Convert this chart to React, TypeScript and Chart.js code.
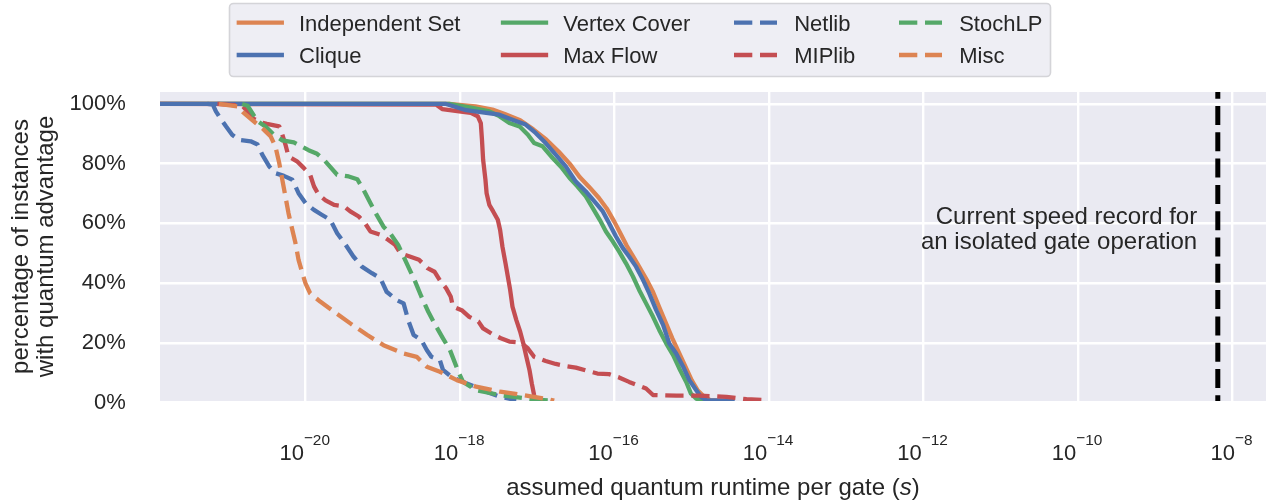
import React, { useEffect, useRef } from 'react';
import { Chart, registerables } from 'chart.js';

Chart.register(...registerables);

const FONT = '"Liberation Sans", Arial, Helvetica, sans-serif';
const TEXT = '#262626';

// ---- data: x values are log10(runtime per gate in seconds), y values are % of instances ----
const independentSetLogT = [-21.9, -18.14, -17.8, -17.58, -17.42, -17.22, -17.05, -16.88, -16.72, -16.58, -16.45, -16.33, -16.2, -16.1, -16.0, -15.92, -15.84, -15.76, -15.68, -15.58, -15.5, -15.42, -15.34, -15.25, -15.17, -15.08, -15.0, -14.92, -14.84, -14.76, -14.64];
const independentSetPct = [100, 100, 99.2, 98.1, 96.6, 94.5, 91.5, 88.0, 84.0, 80.0, 75.5, 72.3, 68.5, 65.0, 60.5, 56.5, 52.5, 49.0, 45.5, 41.0, 37.0, 32.0, 27.0, 21.5, 17.0, 12.0, 7.5, 4.0, 2.0, 0.8, 0.6];

const cliqueLogT = [-21.9, -18.18, -17.92, -17.66, -17.49, -17.32, -17.15, -17.02, -16.89, -16.76, -16.63, -16.5, -16.37, -16.24, -16.15, -16.07, -15.98, -15.89, -15.81, -15.72, -15.63, -15.55, -15.46, -15.37, -15.29, -15.2, -15.11, -15.03, -14.94, -14.88, -14.81, -14.47];
const cliquePct = [100, 100, 97.9, 97.0, 96.4, 94.7, 93.1, 90.3, 86.9, 83.0, 79.1, 74.0, 70.7, 66.8, 64.0, 60.1, 55.6, 51.7, 48.9, 45.5, 41.1, 36.6, 31.0, 26.0, 19.8, 16.4, 12.0, 7.5, 4.1, 1.9, 0.8, 0.6];

const vertexCoverLogT = [-21.9, -18.14, -17.84, -17.62, -17.49, -17.36, -17.23, -17.12, -17.04, -16.93, -16.8, -16.69, -16.58, -16.48, -16.37, -16.28, -16.19, -16.11, -16.02, -15.94, -15.85, -15.76, -15.68, -15.59, -15.5, -15.42, -15.33, -15.24, -15.16, -15.07, -15.01, -14.94, -14.86];
const vertexCoverPct = [100, 100, 98.7, 97.5, 95.9, 93.6, 92.5, 89.7, 86.9, 85.8, 81.9, 78.9, 75.2, 72.4, 69.0, 65.1, 61.2, 57.3, 53.9, 50.6, 46.6, 42.2, 37.7, 33.2, 28.7, 24.3, 19.8, 15.9, 11.4, 6.9, 3.0, 1.3, 0.6];

const maxFlowLogT = [-21.9, -18.31, -18.23, -18.01, -17.86, -17.77, -17.73, -17.715, -17.7, -17.67, -17.655, -17.62, -17.57, -17.51, -17.48, -17.45, -17.41, -17.38, -17.35, -17.32, -17.27, -17.22, -17.18, -17.14, -17.1, -17.07, -17.04, -17.02];
const maxFlowPct = [100, 99.8, 98.3, 97.5, 97.0, 95.9, 93.6, 88.0, 81.3, 74.6, 70.1, 66.2, 64.0, 61.2, 57.8, 52.2, 46.6, 42.2, 37.7, 32.1, 27.6, 23.7, 19.8, 15.3, 10.9, 6.4, 2.5, 0.6];

const netlibLogT = [-21.27, -21.2, -21.16, -21.12, -21.03, -20.95, -20.86, -20.71, -20.62, -20.56, -20.47, -20.39, -20.28, -20.17, -20.09, -20.0, -19.89, -19.79, -19.68, -19.59, -19.48, -19.38, -19.27, -19.14, -19.03, -18.95, -18.82, -18.73, -18.67, -18.6, -18.5, -18.43, -18.37, -18.26, -18.22, -18.11, -17.96, -17.81, -17.66, -17.48, -17.27];
const netlibPct = [100, 99.8, 97.5, 95.9, 92.5, 89.7, 88.0, 87.5, 86.4, 83.0, 79.1, 76.8, 75.9, 74.6, 70.1, 66.8, 64.5, 62.9, 61.2, 56.7, 52.8, 48.9, 45.5, 43.3, 41.6, 37.1, 34.3, 33.2, 27.6, 22.6, 20.9, 17.6, 15.3, 14.2, 10.9, 8.6, 6.9, 5.3, 3.6, 1.9, 0.8];

const miplibLogT = [-21.14, -20.97, -20.82, -20.75, -20.67, -20.58, -20.5, -20.34, -20.3, -20.26, -20.22, -20.11, -20.02, -19.94, -19.89, -19.83, -19.74, -19.63, -19.5, -19.42, -19.31, -19.23, -19.16, -19.03, -18.93, -18.84, -18.77, -18.65, -18.53, -18.42, -18.33, -18.25, -18.18, -18.12, -18.09, -17.97, -17.88, -17.76, -17.7, -17.56, -17.47, -17.36, -17.21, -17.12, -17.04, -16.89, -16.76, -16.63, -16.5, -16.35, -16.22, -16.07, -15.94, -15.81, -15.7, -15.59, -15.5, -15.2, -14.9, -14.55, -14.29, -14.01];
const miplibPct = [100, 99.7, 99.4, 97.5, 95.0, 93.8, 93.3, 92.5, 89.7, 86.4, 82.4, 80.8, 78.5, 76.3, 72.4, 69.6, 67.7, 66.2, 65.7, 64.0, 62.3, 60.1, 57.3, 56.2, 54.5, 52.8, 50.0, 48.9, 47.8, 45.0, 43.8, 40.5, 38.3, 35.5, 32.1, 30.8, 28.7, 27.1, 24.8, 22.6, 21.5, 20.4, 20.1, 18.1, 15.3, 13.9, 12.9, 12.2, 11.7, 10.6, 9.7, 9.5, 8.4, 6.9, 5.8, 4.7, 2.5, 2.3, 2.3, 1.9, 1.1, 0.8];

const stochLPLogT = [-20.82, -20.75, -20.69, -20.62, -20.52, -20.41, -20.3, -20.15, -20.07, -19.96, -19.85, -19.76, -19.68, -19.59, -19.44, -19.33, -19.25, -19.16, -19.08, -18.99, -18.9, -18.8, -18.73, -18.67, -18.58, -18.5, -18.41, -18.32, -18.22, -18.13, -18.07, -18.02, -17.96, -17.79, -17.48, -17.05, -16.8];
const stochLPPct = [100, 99.4, 97.0, 94.2, 92.5, 89.7, 87.8, 87.1, 86.0, 84.5, 83.3, 81.3, 78.9, 76.3, 75.7, 74.8, 71.3, 66.8, 62.9, 58.9, 56.5, 52.8, 48.9, 45.5, 40.5, 35.5, 30.4, 26.0, 21.5, 17.6, 13.6, 10.3, 6.9, 4.1, 2.5, 1.0, 0.6];

const miscLogT = [-21.12, -20.88, -20.8, -20.67, -20.54, -20.45, -20.39, -20.34, -20.3, -20.26, -20.22, -20.17, -20.13, -20.09, -20.04, -20.0, -19.94, -19.81, -19.63, -19.42, -19.2, -18.99, -18.73, -18.56, -18.43, -18.26, -18.04, -17.79, -17.48, -17.18, -16.84, -16.78];
const miscPct = [100, 99.2, 97.0, 94.2, 91.4, 89.1, 85.8, 80.2, 74.6, 69.0, 63.4, 57.8, 53.4, 47.8, 43.3, 39.9, 36.6, 33.8, 30.4, 26.5, 22.6, 19.2, 16.4, 15.3, 12.0, 10.3, 7.5, 5.3, 3.6, 2.5, 1.0, 0.6];

const speedRecordSeconds = 6.5e-9;
const speedRecordNote = ['Current speed record for', 'an isolated gate operation'];

const xTickExponents = [-20, -18, -16, -14, -12, -10, -8];
const yTickValues = [0, 20, 40, 60, 80, 100];
const X_MIN_EXP = -21.884;
const X_MAX_EXP = -7.563;

const legendColumns = [
  ['Independent Set', 'Clique'],
  ['Vertex Cover', 'Max Flow'],
  ['Netlib', 'MIPlib'],
  ['StochLP', 'Misc'],
];

const BLUE = '#4C72B0';
const ORANGE = '#DD8452';
const GREEN = '#55A868';
const RED = '#C44E52';
const DASH = [18.3, 7.7];
const LW = 4.3;

const toPoints = (logT: number[], pct: number[]) =>
  logT.map((v, i) => ({ x: Math.pow(10, v), y: pct[i] }));

function series(label: string, logT: number[], pct: number[], color: string, dashed: boolean, order: number) {
  return {
    label,
    data: toPoints(logT, pct),
    borderColor: color,
    backgroundColor: color,
    borderWidth: LW,
    borderDash: dashed ? DASH : [],
    borderCapStyle: dashed ? 'butt' : 'square',
    borderJoinStyle: 'round',
    pointRadius: 0,
    pointHoverRadius: 0,
    tension: 0,
    fill: false,
    clip: 0,
    order,
  };
}

const bgPlugin = {
  id: 'bgPlugin',
  beforeDraw(chart: any) {
    const { ctx, chartArea } = chart;
    ctx.save();
    ctx.fillStyle = '#ffffff';
    ctx.fillRect(0, 0, chart.width, chart.height);
    ctx.fillStyle = '#EAEAF2';
    ctx.fillRect(chartArea.left, chartArea.top, chartArea.right - chartArea.left, chartArea.bottom - chartArea.top);
    ctx.restore();
  },
};

const textPlugin = {
  id: 'textPlugin',
  afterDraw(chart: any) {
    const { ctx, chartArea } = chart;
    const xs = chart.scales.x;
    const ys = chart.scales.y;
    ctx.save();
    ctx.fillStyle = TEXT;
    ctx.textAlign = 'left';
    ctx.textBaseline = 'alphabetic';

    // x tick labels 10^e (minus of the exponent sits a bit higher, as in mathtext)
    for (const e of xTickExponents) {
      const px = xs.getPixelForValue(Math.pow(10, e));
      ctx.font = `22px ${FONT}`;
      const wb = ctx.measureText('10').width;
      const minus = '\u2212';
      const digits = String(Math.abs(e));
      ctx.font = `15.4px ${FONT}`;
      const wm = ctx.measureText(minus).width;
      const wd = ctx.measureText(digits).width;
      const x0 = px - 0.8 - (wb + wm + wd) / 2;
      const base = chartArea.bottom + 59;
      const supBase = chartArea.bottom + 44;
      ctx.font = `22px ${FONT}`;
      ctx.fillText('10', x0, base);
      ctx.font = `15.4px ${FONT}`;
      ctx.fillText(minus, x0 + wb, supBase - 2.2);
      ctx.fillText(digits, x0 + wb + wm, supBase);
    }

    // x axis title with italic s
    const p1 = 'assumed quantum runtime per gate (';
    const p2 = 's';
    const p3 = ')';
    ctx.font = `24px ${FONT}`;
    const w1 = ctx.measureText(p1).width;
    const w3 = ctx.measureText(p3).width;
    ctx.font = `italic 24px ${FONT}`;
    const w2 = ctx.measureText(p2).width;
    const cx = (chartArea.left + chartArea.right) / 2;
    let tx = cx - (w1 + w2 + w3) / 2;
    const ty = chartArea.bottom + 94;
    ctx.font = `24px ${FONT}`;
    ctx.fillText(p1, tx, ty);
    tx += w1;
    ctx.font = `italic 24px ${FONT}`;
    ctx.fillText(p2, tx, ty);
    tx += w2;
    ctx.font = `24px ${FONT}`;
    ctx.fillText(p3, tx, ty);

    // annotation next to speed record line
    const lx = xs.getPixelForValue(speedRecordSeconds) - 20.6;
    const ly = ys.getPixelForValue(60) + 0.8;
    ctx.textAlign = 'right';
    ctx.font = `24px ${FONT}`;
    speedRecordNote.forEach((line, i) => ctx.fillText(line, lx, ly + i * 24.5));

    // legend
    const bx = 229.5, by = 3.5, bw = 821, bh = 73, r = 4;
    ctx.beginPath();
    ctx.moveTo(bx + r, by);
    ctx.lineTo(bx + bw - r, by);
    ctx.arcTo(bx + bw, by, bx + bw, by + r, r);
    ctx.lineTo(bx + bw, by + bh - r);
    ctx.arcTo(bx + bw, by + bh, bx + bw - r, by + bh, r);
    ctx.lineTo(bx + r, by + bh);
    ctx.arcTo(bx, by + bh, bx, by + bh - r, r);
    ctx.lineTo(bx, by + r);
    ctx.arcTo(bx, by, bx + r, by, r);
    ctx.closePath();
    ctx.fillStyle = '#EEEEF4';
    ctx.fill();
    ctx.strokeStyle = '#D4D4D8';
    ctx.lineWidth = 1.6;
    ctx.stroke();

    const colX = [238.8, 503, 734, 899];
    const rowY = [22.6, 55];
    ctx.textAlign = 'left';
    ctx.font = `22px ${FONT}`;
    legendColumns.forEach((col, c) => {
      col.forEach((label, rI) => {
        const ds = chart.data.datasets.find((d: any) => d.label === label);
        if (!ds) return;
        const y = rowY[rI];
        ctx.beginPath();
        ctx.strokeStyle = ds.borderColor;
        ctx.lineWidth = ds.borderWidth;
        const dashed = ds.borderDash && ds.borderDash.length > 0;
        ctx.setLineDash(dashed ? ds.borderDash : []);
        ctx.lineCap = dashed ? 'butt' : 'square';
        ctx.moveTo(colX[c], y);
        ctx.lineTo(colX[c] + 43, y);
        ctx.stroke();
        ctx.setLineDash([]);
        ctx.fillStyle = TEXT;
        ctx.fillText(label, colX[c] + 60.2, y + 8);
      });
    });
    ctx.restore();
  },
};

export default function App() {
  const ref = useRef<HTMLCanvasElement>(null);
  useEffect(() => {
    document.body.style.margin = '0';
    const canvas = ref.current;
    if (!canvas) return;
    const datasets: any[] = [
      series('Independent Set', independentSetLogT, independentSetPct, ORANGE, false, 7),
      series('Clique', cliqueLogT, cliquePct, BLUE, false, 4),
      series('Vertex Cover', vertexCoverLogT, vertexCoverPct, GREEN, false, 6),
      series('Max Flow', maxFlowLogT, maxFlowPct, RED, false, 5),
      series('Netlib', netlibLogT, netlibPct, BLUE, true, 3),
      series('MIPlib', miplibLogT, miplibPct, RED, true, 2),
      series('StochLP', stochLPLogT, stochLPPct, GREEN, true, 1),
      series('Misc', miscLogT, miscPct, ORANGE, true, 0),
      {
        label: 'speed record',
        data: [{ x: speedRecordSeconds, y: 0.5 }, { x: speedRecordSeconds, y: 104 }],
        borderColor: '#000000',
        borderWidth: 5,
        borderDash: [19, 7.3],
        borderDashOffset: 13.3,
        borderCapStyle: 'butt',
        pointRadius: 0,
        pointHoverRadius: 0,
        fill: false,
        clip: 0,
        order: -1,
      },
    ];
    const chart = new Chart(canvas, {
      type: 'line',
      data: { datasets },
      options: {
        animation: false,
        responsive: false,
        maintainAspectRatio: false,
        events: [],
        layout: { padding: { left: 0, right: 0, top: 92, bottom: 0 } },
        plugins: { legend: { display: false }, tooltip: { enabled: false } },
        scales: {
          x: {
            type: 'logarithmic',
            min: Math.pow(10, X_MIN_EXP),
            max: Math.pow(10, X_MAX_EXP),
            afterBuildTicks: (s: any) => {
              s.ticks = xTickExponents.map((e) => ({ value: Math.pow(10, e) }));
            },
            afterFit: (s: any) => {
              s.height = 102;
            },
            ticks: { display: false },
            grid: { color: '#ffffff', lineWidth: 2.4, drawTicks: false },
            border: { display: false },
          },
          y: {
            type: 'linear',
            min: 0.5,
            max: 104,
            afterBuildTicks: (s: any) => {
              s.ticks = yTickValues.map((v) => ({ value: v }));
            },
            afterFit: (s: any) => {
              s.width = 160;
            },
            ticks: {
              callback: (v: any) => `${v}%`,
              padding: 34.3,
              color: TEXT,
              font: { family: FONT, size: 22 },
              autoSkip: false,
            },
            grid: { color: '#ffffff', lineWidth: 2.4, drawTicks: false },
            border: { display: false },
            title: {
              display: true,
              text: ['percentage of instances', 'with quantum advantage'],
              color: TEXT,
              font: { family: FONT, size: 24, lineHeight: 1.04 },
              padding: { top: 9.2, bottom: 0 },
            },
          },
        },
      },
      plugins: [bgPlugin, textPlugin],
    } as any);
    return () => chart.destroy();
  }, []);
  return (
    <div style={{ width: 1266, height: 503 }}>
      <canvas ref={ref} width={1266} height={503} style={{ display: 'block' }} />
    </div>
  );
}
